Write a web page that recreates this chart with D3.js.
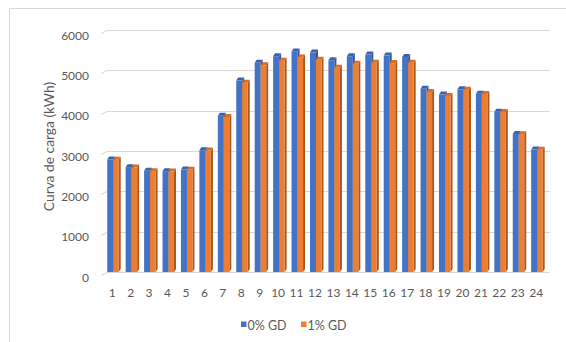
<!DOCTYPE html>
<html>
<head>
<meta charset="utf-8">
<script src="https://cdn.jsdelivr.net/npm/d3@7"></script>
<style>
  html, body { margin: 0; padding: 0; background: #fff; }
  svg { display: block; font-family: Lato, "Open Sans", sans-serif; }
</style>
</head>
<body>
<svg id="chart" width="566" height="342"></svg>
<script>
// Hourly load curve (kWh) for two distributed-generation scenarios
const hours = ["1","2","3","4","5","6","7","8","9","10","11","12","13","14","15","16","17","18","19","20","21","22","23","24"];
const load0 = [2790, 2600, 2510, 2500, 2540, 3020, 3875, 4745, 5190, 5350, 5470, 5440, 5250, 5350, 5390, 5365, 5330, 4545, 4400, 4530, 4420, 3975, 3420, 3035];
const load1 = [2780, 2590, 2500, 2490, 2535, 3010, 3845, 4695, 5125, 5240, 5320, 5265, 5065, 5165, 5190, 5180, 5190, 4465, 4365, 4520, 4415, 3970, 3415, 3030];
const seriesNames = ["0% GD", "1% GD"];
const yTicks = [0, 1000, 2000, 3000, 4000, 5000, 6000];

const svg = d3.select("#chart");

// frame edges
svg.append("line").attr("x1", 9.5).attr("y1", 8.5).attr("x2", 566).attr("y2", 8.5).attr("stroke", "#d9d9d9");
svg.append("line").attr("x1", 9.5).attr("y1", 8.5).attr("x2", 9.5).attr("y2", 342).attr("stroke", "#d9d9d9");

const y = d3.scaleLinear().domain([0, 6000]).range([272, 30]);
const x = d3.scaleBand().domain(hours).range([103, 545.4]);

// back-wall gridlines with the short side-wall segment on the left
const grid = svg.append("g");
yTicks.forEach(t => {
  const gy = Math.round(y(t)) + 0.5;
  grid.append("path")
    .attr("d", `M101,${gy + 3} L107,${gy} L550,${gy}`)
    .attr("fill", "none").attr("stroke", "#d9d9d9").attr("stroke-width", 1.2);
});

// y-axis tick labels
const yAxis = d3.axisLeft(y).tickValues(yTicks).tickFormat(d3.format("d")).tickSize(0).tickPadding(0);
const yg = svg.append("g").attr("transform", "translate(89,0)").call(yAxis);
yg.select(".domain").remove();
yg.selectAll("text").attr("font-family", "Lato, sans-serif").attr("font-size", 12)
  .attr("fill", "#595959").attr("dy", null).attr("y", 9).attr("x", 0)
  .attr("text-anchor", "end");

// x-axis labels
const xAxis = d3.axisBottom(x).tickSize(0).tickPadding(0);
const xg = svg.append("g").attr("transform", "translate(0,297)").call(xAxis);
xg.select(".domain").remove();
xg.selectAll("text").attr("font-family", "Lato, sans-serif").attr("font-size", 12)
  .attr("fill", "#595959").attr("dy", null).attr("y", 0);

// 3D columns: front face, top face, right side face
const dx = 2, dy = 3;
const palette = [
  { front: "#4472c4", top: "#3a63ad", side: "#2f5597" },
  { front: "#ed7d31", top: "#d96d24", side: "#a9561d" }
];
const base = y(0);
function drawBar(g, x0, w, v, col) {
  const yt = y(v);
  g.append("path")
    .attr("d", `M${x0 + w},${yt} L${x0 + w + dx},${yt - dy} L${x0 + w + dx},${base - dy} L${x0 + w},${base} Z`)
    .attr("fill", col.side);
  g.append("path")
    .attr("d", `M${x0},${yt} L${x0 + dx},${yt - dy} L${x0 + w + dx},${yt - dy} L${x0 + w},${yt} Z`)
    .attr("fill", col.top);
  g.append("rect").attr("x", x0).attr("y", yt).attr("width", w).attr("height", base - yt)
    .attr("fill", col.front);
}
const bars = svg.append("g");
hours.forEach((h, i) => {
  const c = x(h) + x.bandwidth() / 2;
  drawBar(bars, c - 5, 6, load0[i], palette[0]);
  drawBar(bars, c + 1, 5.5, load1[i], palette[1]);
});

// axis title
svg.append("text")
  .attr("transform", "translate(53.5,146.5) rotate(-90)")
  .attr("text-anchor", "middle")
  .attr("font-family", "Lato, sans-serif").attr("font-size", 13.8)
  .attr("fill", "#595959")
  .text("Curva de carga (kWh)");

// legend
const legendX = [241, 301];
seriesNames.forEach((name, i) => {
  svg.append("rect").attr("x", legendX[i]).attr("y", 321.5).attr("width", 5.5).attr("height", 5.5)
    .attr("fill", palette[i].front);
  svg.append("text").attr("x", legendX[i] + 6.5).attr("y", 330)
    .attr("font-family", "Lato, sans-serif").attr("font-size", 12.5)
    .attr("fill", "#595959").text(name);
});
</script>
</body>
</html>
